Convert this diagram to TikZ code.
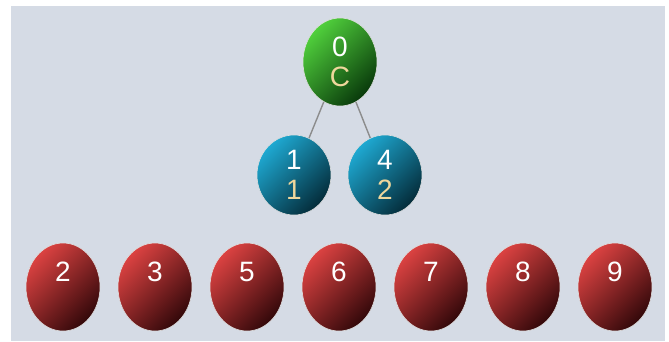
\documentclass[tikz,border=0pt]{standalone}
\usepackage{fontspec}
\setmainfont{Liberation Sans}
\usetikzlibrary{shapes.geometric}

\definecolor{backcol}{HTML}{D5DBE5}
\definecolor{redtop}{HTML}{DB4241}
\definecolor{redbot}{HTML}{33080A}
\definecolor{greentop}{HTML}{50D03C}
\definecolor{greenbot}{HTML}{093A0B}
\definecolor{bluetop}{HTML}{1EA9D2}
\definecolor{bluebot}{HTML}{042C3A}
\definecolor{keycol}{HTML}{EFD79C}
\definecolor{linkcol}{HTML}{8C8C8C}

\tikzset{
	ball/.style={ellipse, minimum width=74pt, minimum height=88pt, inner sep=0pt,
		draw=white!75!gray, line width=0.6pt, align=center,
		text=white, font=\fontsize{28}{30}\selectfont},
	redball/.style={ball, top color=redtop, bottom color=redbot, shading angle=45},
	greenball/.style={ball, top color=greentop, bottom color=greenbot, shading angle=45},
	blueball/.style={ball, top color=bluetop, bottom color=bluebot, shading angle=45,
		minimum height=80pt},
	link/.style={draw=linkcol, line width=1.4pt}
}

\begin{document}
\begin{tikzpicture}[x=1pt, y=-1pt]
	\useasboundingbox (0,0) rectangle (669,341);
	\fill [backcol] (11,6) rectangle (665,341);
	
	% tree
	\node [greenball] (0) at (340,62)  {0\\\textcolor{keycol}{C}};
	\node [blueball]  (1) at (294,175) {1\\\textcolor{keycol}{1}};
	\node [blueball]  (4) at (385,175) {4\\\textcolor{keycol}{2}};
	
	\path [link]
	(0) edge (1)
	(0) edge (4);
	
	% row
	\node [redball] (2) at (63,287)  {2\\~};
	\node [redball] (3) at (155,287) {3\\~};
	\node [redball] (5) at (247,287) {5\\~};
	\node [redball] (6) at (339,287) {6\\~};
	\node [redball] (7) at (431,287) {7\\~};
	\node [redball] (8) at (523,287) {8\\~};
	\node [redball] (9) at (615,287) {9\\~};
\end{tikzpicture}
\end{document}
